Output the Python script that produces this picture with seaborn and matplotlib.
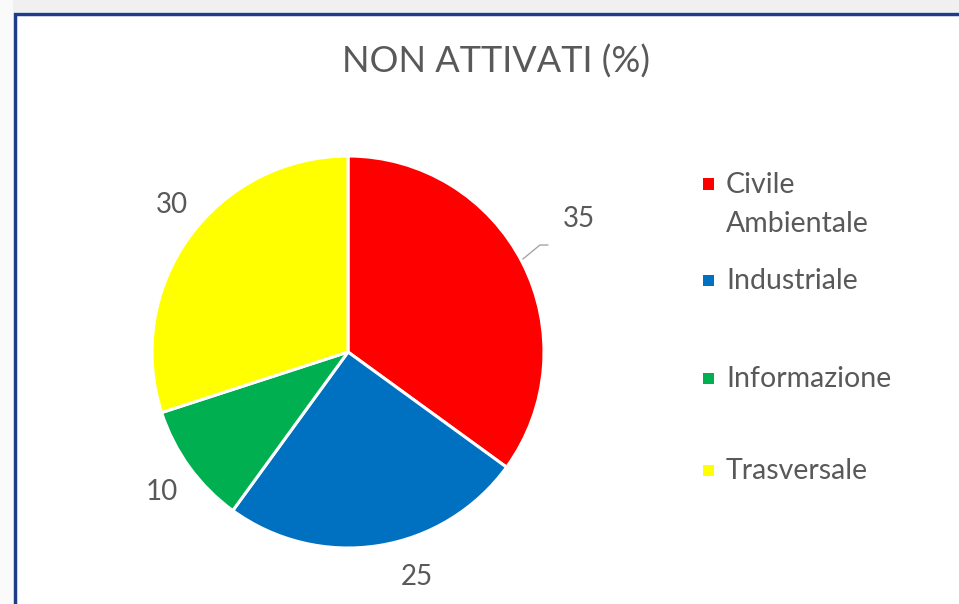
import numpy as np
import matplotlib.pyplot as plt
import seaborn as sns
from matplotlib.patches import Rectangle

# data
categories = ["Civile\nAmbientale", "Industriale", "Informazione", "Trasversale"]
values = [35, 25, 10, 30]
colors = ["#FF0000", "#0070C0", "#00B050", "#FFFF00"]
title = "NON ATTIVATI (%)"

# label placement tweaks (Excel "best fit" positions)
label_radius = [1.36, 1.20, 1.19, 1.17]
label_shift = [3, 8, 1, -4]
# legend rows (px from top, first text line)
legend_rows = [184, 280, 378, 470]

sns.set_theme(style="white")
plt.rcParams["font.family"] = ["Lato", "DejaVu Sans"]
text_color = "#595959"

W, H = 959, 604
fig = plt.figure(figsize=(W / 100, H / 100), dpi=100)

# pie axes: center (348, 352) px, radius 196 px
R = 196
cx, cy = 348, 352
side = 1.25 * R * 2
ax = fig.add_axes([(cx - side / 2) / W, (H - cy - side / 2) / H, side / W, side / H])
wedges, _ = ax.pie(
    values,
    colors=colors,
    startangle=90,
    counterclock=False,
    wedgeprops=dict(edgecolor="white", linewidth=2.2),
)
ax.set_aspect("equal")

for i, (w, v) in enumerate(zip(wedges, values)):
    mid = np.deg2rad((w.theta1 + w.theta2) / 2 + label_shift[i])
    r = label_radius[i]
    ax.text(r * np.cos(mid), r * np.sin(mid), str(v), ha="center", va="center",
            fontsize=20, color=text_color)

# leader line for the first label
a = np.deg2rad(28)
p0 = (1.01 * np.cos(a), 1.01 * np.sin(a))
p1 = (192 / R, 107 / R)
p2 = (200 / R, 107 / R)
ax.plot([p0[0], p1[0], p2[0]], [p0[1], p1[1], p2[1]], color="#A6A6A6", lw=1)

fig.text(496 / W, 1 - 62 / H, title, ha="center", va="center", fontsize=26, color=text_color)

# legend: square marker aligned with the first line of each label
for lab, c, y in zip(categories, colors, legend_rows):
    fig.patches.append(Rectangle(((708 - 5.5) / W, 1 - (y + 5.5) / H), 11 / W, 11 / H,
                                 transform=fig.transFigure, facecolor=c, edgecolor="none"))
    fig.text(726 / W, 1 - (y - 12) / H, lab, ha="left", va="top", fontsize=20.5,
             color=text_color, linespacing=1.6)

# chart frame (top and left edges visible)
fig.patches.append(Rectangle((0, 1 - 12 / H), 1, 12 / H, transform=fig.transFigure,
                             facecolor="#F0F0F0", edgecolor="none", zorder=0))
fig.patches.append(Rectangle((0, 0), 13 / W, 1, transform=fig.transFigure,
                             facecolor="#FAFAFA", edgecolor="none", zorder=0))
fig.patches.append(Rectangle((15 / W, -0.1), 1.2, 1 - 14 / H + 0.1, transform=fig.transFigure,
                             fill=False, edgecolor="#1F3C88", linewidth=2.5, zorder=5))

fig.savefig("out.png", dpi=100)
